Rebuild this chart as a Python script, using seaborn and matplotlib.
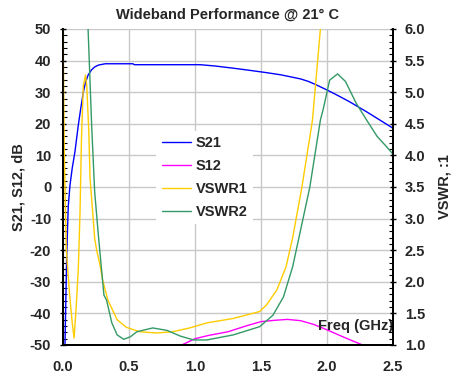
import matplotlib
matplotlib.use("Agg")
import matplotlib.pyplot as plt
from matplotlib.ticker import MultipleLocator
import seaborn as sns
import pandas as pd

# ---- data ----
s21_f = [0.015, 0.028, 0.04, 0.053, 0.07, 0.09, 0.116, 0.135, 0.154, 0.17, 0.19, 0.215, 0.24,
         0.27, 0.32, 0.40, 0.53, 0.54, 0.80, 1.04, 1.15, 1.29, 1.40, 1.54, 1.65, 1.72, 1.80,
         1.86, 1.92, 2.0, 2.08, 2.17, 2.3, 2.4, 2.5]
s21_db = [-50, -21.5, -6, 0.6, 6, 11, 19.6, 25, 30, 33, 35.4, 37, 38, 38.6, 39.0, 39.0, 39.0,
          38.7, 38.7, 38.7, 38.3, 37.6, 37.0, 36.2, 35.5, 34.9, 34.2, 33.4, 32.3, 30.7,
          29.0, 27.0, 23.8, 21.2, 18.6]

s12_f = [0.90, 1.0, 1.1, 1.25, 1.4, 1.5, 1.6, 1.7, 1.8, 1.9, 2.0, 2.12, 2.2, 2.27]
s12_db = [-50, -48, -47, -45.8, -43.8, -42.6, -42.2, -41.9, -42.3, -43.5, -45.2, -47.4,
          -48.8, -50]

vswr1_f = [0.0, 0.01, 0.025, 0.05, 0.07, 0.084, 0.10, 0.116, 0.129, 0.14, 0.154, 0.17,
           0.18, 0.195, 0.205, 0.24, 0.255, 0.28, 0.30, 0.34, 0.41, 0.48, 0.58, 0.71,
           0.83, 0.96, 1.09, 1.29, 1.49, 1.54, 1.62, 1.69, 1.74, 1.81, 1.89, 1.95]
vswr1 = [6.0, 4.0, 2.5, 1.8, 1.35, 1.11, 1.6, 2.22, 3.1, 4.27, 5.1, 5.27, 5.1, 4.4, 3.64,
         2.69, 2.5, 2.27, 2.03, 1.71, 1.40, 1.28, 1.21, 1.19, 1.21, 1.27, 1.35, 1.42, 1.53,
         1.63, 1.87, 2.24, 2.7, 3.5, 4.56, 6.0]

vswr2_f = [0.19, 0.217, 0.24, 0.27, 0.31, 0.33, 0.37, 0.41, 0.46, 0.51, 0.56, 0.68, 0.79,
           0.89, 0.99, 1.09, 1.29, 1.49, 1.59, 1.67, 1.74, 1.80, 1.87, 1.95, 1.97, 2.02,
           2.08, 2.14, 2.22, 2.30, 2.38, 2.45, 2.5]
vswr2 = [6.0, 4.48, 3.42, 2.69, 1.79, 1.71, 1.35, 1.16, 1.09, 1.13, 1.21, 1.27, 1.23, 1.14,
         1.08, 1.08, 1.16, 1.29, 1.47, 1.76, 2.24, 2.82, 3.5, 4.56, 4.72, 5.19, 5.29, 5.17,
         4.83, 4.56, 4.30, 4.14, 4.02]

x_ticks = [0.0, 0.5, 1.0, 1.5, 2.0, 2.5]
left_ticks = [50, 40, 30, 20, 10, 0, -10, -20, -30, -40, -50]
right_ticks = [6.0, 5.5, 5.0, 4.5, 4.0, 3.5, 3.0, 2.5, 2.0, 1.5, 1.0]

title = "Wideband Performance @ 21° C"

# ---- plotting ----
sns.set_theme(style="white")
plt.rcParams['font.family'] = ['Liberation Sans', 'DejaVu Sans']
plt.rcParams['font.weight'] = 'bold'

FS = 10.5
fig = plt.figure(figsize=(4.57, 3.77), dpi=100)
ax = fig.add_axes([63/457, 1-345/377, (393-63)/457, (345-29)/377])
ax2 = ax.twinx()

BLUE, MAG, YEL, GRN = "#0000FF", "#FF00FF", "#FFCC00", "#339966"

d21 = pd.DataFrame({"f": s21_f, "v": s21_db})
d12 = pd.DataFrame({"f": s12_f, "v": s12_db})
dv1 = pd.DataFrame({"f": vswr1_f, "v": vswr1})
dv2 = pd.DataFrame({"f": vswr2_f, "v": vswr2})

sns.lineplot(data=d21, x="f", y="v", ax=ax, color=BLUE, lw=1.0, label="S21", sort=False)
sns.lineplot(data=d12, x="f", y="v", ax=ax, color=MAG, lw=1.0, label="S12", sort=False)
sns.lineplot(data=dv1, x="f", y="v", ax=ax2, color=YEL, lw=1.0, label="VSWR1", sort=False)
sns.lineplot(data=dv2, x="f", y="v", ax=ax2, color=GRN, lw=1.0, label="VSWR2", sort=False)

ax.set_xlim(0, 2.5)
ax.set_ylim(-50, 50)
ax2.set_ylim(1.0, 6.0)

ax.set_xticks(x_ticks)
ax.set_xticklabels([f"{t:.1f}" for t in x_ticks])
ax.set_yticks(left_ticks)
ax.set_yticklabels([f"{t:d}" for t in left_ticks])
ax2.set_yticks(right_ticks)
ax2.set_yticklabels([f"{t:.1f}" for t in right_ticks])
ax.yaxis.set_minor_locator(MultipleLocator(2))
ax2.yaxis.set_minor_locator(MultipleLocator(0.1))

ax.grid(True, color="#c8c8c8", lw=1.0)
ax.set_axisbelow(True)

for a in (ax, ax2):
    a.tick_params(axis='both', which='major', labelsize=FS, direction='inout', length=5,
                  width=1.0, color='black', pad=6)
    a.tick_params(axis='y', which='minor', direction='in', length=3, width=0.8, color='black')
    for lab in a.get_xticklabels() + a.get_yticklabels():
        lab.set_fontweight('bold')
    for s in ("left", "right", "bottom"):
        a.spines[s].set_color("black")
        a.spines[s].set_linewidth(1.3)
    a.spines["top"].set_visible(False)
ax.tick_params(axis='x', pad=8)

ax.set_xlabel("")
ax.set_ylabel("S21, S12, dB", fontsize=FS, fontweight='bold', labelpad=3)
ax2.set_ylabel("VSWR, :1", fontsize=FS, fontweight='bold', labelpad=9, rotation=90)
ax.text(2.5, -44, "Freq (GHz)", ha='right', va='center', fontsize=FS, fontweight='bold',
        zorder=10)
fig.text(228/457, 1-15/377, title, ha='center', va='center', fontsize=10.5, fontweight='bold')

# combined legend
h1, l1 = ax.get_legend_handles_labels()
h2, l2 = ax2.get_legend_handles_labels()
ax.get_legend().remove()
ax2.get_legend().remove()
leg = ax2.legend(h1 + h2, l1 + l2, loc='center', bbox_to_anchor=(0.43, 0.53),
                 frameon=True, facecolor='white', edgecolor='white', framealpha=1.0,
                 handlelength=2.0, labelspacing=0.6, borderpad=0.4, handletextpad=0.3,
                 prop={'weight': 'bold', 'size': FS})
leg.get_frame().set_linewidth(0)

fig.savefig("out.png", dpi=100)
